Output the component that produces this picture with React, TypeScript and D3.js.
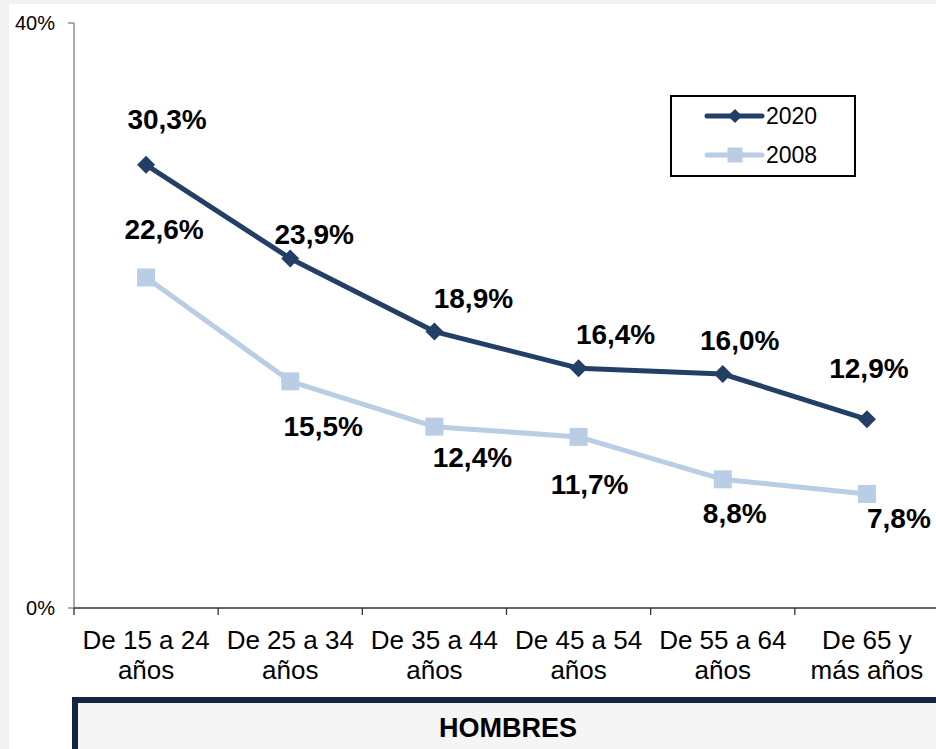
import React from "react";
import * as d3 from "d3";

const categories = [
  "De 15 a 24\naños",
  "De 25 a 34\naños",
  "De 35 a 44\naños",
  "De 45 a 54\naños",
  "De 55 a 64\naños",
  "De 65 y\nmás años",
];
const series2020 = [30.3, 23.9, 18.9, 16.4, 16.0, 12.9];
const series2008 = [22.6, 15.5, 12.4, 11.7, 8.8, 7.8];
const yTicks = [0, 40];
const seriesNames = ["2020", "2008"];
const panelTitle = "HOMBRES";

// label placement offsets (pixels from the point: dx to text centre, dy to baseline)
const labelOffsets2020: [number, number][] = [
  [21, -36], [24, -14], [39, -24], [37, -24], [17, -24], [2, -41],
];
const labelOffsets2008: [number, number][] = [
  [18, -38], [33, 55], [38, 40], [11, 57], [12, 44], [32, 34],
];

const W = 936;
const H = 749;
const FONT = "'Liberation Sans', Arial, Helvetica, sans-serif";
const C2020 = "#243f66";
const C2008 = "#b9cde5";

const fmt = (v: number) => v.toFixed(1).replace(".", ",") + "%";

export default function App() {
  const x = d3.scaleBand<number>().domain(d3.range(categories.length)).range([74, 939]);
  const y = d3.scaleLinear().domain([0, 40]).range([608, 23]);
  const cx = (i: number) => (x(i) as number) + x.bandwidth() / 2;
  const line = d3
    .line<number>()
    .x((_, i) => cx(i))
    .y((d) => y(d));
  const diamond = d3.symbol().type(d3.symbolSquare).size(162)();
  const square = d3.symbol().type(d3.symbolSquare).size(324)();
  const legDiamond = d3.symbol().type(d3.symbolSquare).size(100)();
  const legSquare = d3.symbol().type(d3.symbolSquare).size(225)();
  const ticksX = d3.range(categories.length + 1).map((i) => 74 + i * x.bandwidth());

  return (
    <svg
      width={W}
      height={H}
      style={{ position: "absolute", left: 0, top: 0, display: "block" }}
      fontFamily={FONT}
    >
      <rect x={0} y={0} width={W} height={H} fill="#f2f2f2" />
      <rect x={9} y={4} width={W - 9} height={H - 4} fill="#ffffff" />

      {/* Y axis */}
      <line x1={74} x2={74} y1={y(40)} y2={y(0)} stroke="#7f7f7f" strokeWidth={1.3} />
      {yTicks.map((t) => (
        <g key={t}>
          <line x1={68} x2={74} y1={y(t)} y2={y(t)} stroke="#7f7f7f" strokeWidth={1.3} />
          <text x={55} y={y(t)} dy="0.36em" textAnchor="end" fontSize={20} fill="#000">
            {t}%
          </text>
        </g>
      ))}

      {/* X axis */}
      <line x1={74} x2={W} y1={y(0)} y2={y(0)} stroke="#333" strokeWidth={1.3} />
      {ticksX.map((t, i) => (
        <line key={i} x1={t} x2={t} y1={y(0)} y2={y(0) + 7} stroke="#333" strokeWidth={1.3} />
      ))}
      {categories.map((c, i) => (
        <text key={i} x={cx(i)} y={649} textAnchor="middle" fontSize={26} fill="#000">
          {c.split("\n").map((ln, j) => (
            <tspan key={j} x={cx(i)} dy={j === 0 ? 0 : 30}>
              {ln}
            </tspan>
          ))}
        </text>
      ))}

      {/* Lines */}
      <path d={line(series2008) as string} fill="none" stroke={C2008} strokeWidth={5} strokeLinejoin="round" />
      {series2008.map((v, i) => (
        <path key={i} d={square as string} transform={`translate(${cx(i)},${y(v)})`} fill={C2008} />
      ))}
      <path d={line(series2020) as string} fill="none" stroke={C2020} strokeWidth={5} strokeLinejoin="round" />
      {series2020.map((v, i) => (
        <path
          key={i}
          d={diamond as string}
          transform={`translate(${cx(i)},${y(v)}) rotate(45)`}
          fill={C2020}
        />
      ))}

      {/* Data labels */}
      {series2020.map((v, i) => (
        <text
          key={"a" + i}
          x={cx(i) + labelOffsets2020[i][0]}
          y={y(v) + labelOffsets2020[i][1]}
          textAnchor="middle"
          fontSize={28}
          fontWeight="bold"
          fill="#000"
        >
          {fmt(v)}
        </text>
      ))}
      {series2008.map((v, i) => (
        <text
          key={"b" + i}
          x={cx(i) + labelOffsets2008[i][0]}
          y={y(v) + labelOffsets2008[i][1]}
          textAnchor="middle"
          fontSize={28}
          fontWeight="bold"
          fill="#000"
        >
          {fmt(v)}
        </text>
      ))}

      {/* Legend */}
      <rect x={671} y={96} width={184} height={80} fill="#fff" stroke="#000" strokeWidth={2} />
      <line x1={707} x2={762} y1={116} y2={116} stroke={C2020} strokeWidth={5} strokeLinecap="round" />
      <path d={legDiamond as string} transform="translate(735,116) rotate(45)" fill={C2020} />
      <text x={766} y={124} fontSize={23} fill="#000">
        {seriesNames[0]}
      </text>
      <line x1={707} x2={762} y1={155} y2={155} stroke={C2008} strokeWidth={5} strokeLinecap="round" />
      <path d={legSquare as string} transform="translate(735,155)" fill={C2008} />
      <text x={766} y={163} fontSize={23} fill="#000">
        {seriesNames[1]}
      </text>

      {/* Panel title box */}
      <rect x={75} y={700} width={900} height={100} fill="#f5f5f5" stroke="#10253f" strokeWidth={6} />
      <text x={508} y={737} textAnchor="middle" fontSize={27} fontWeight="bold" fill="#000">
        {panelTitle}
      </text>
    </svg>
  );
}
